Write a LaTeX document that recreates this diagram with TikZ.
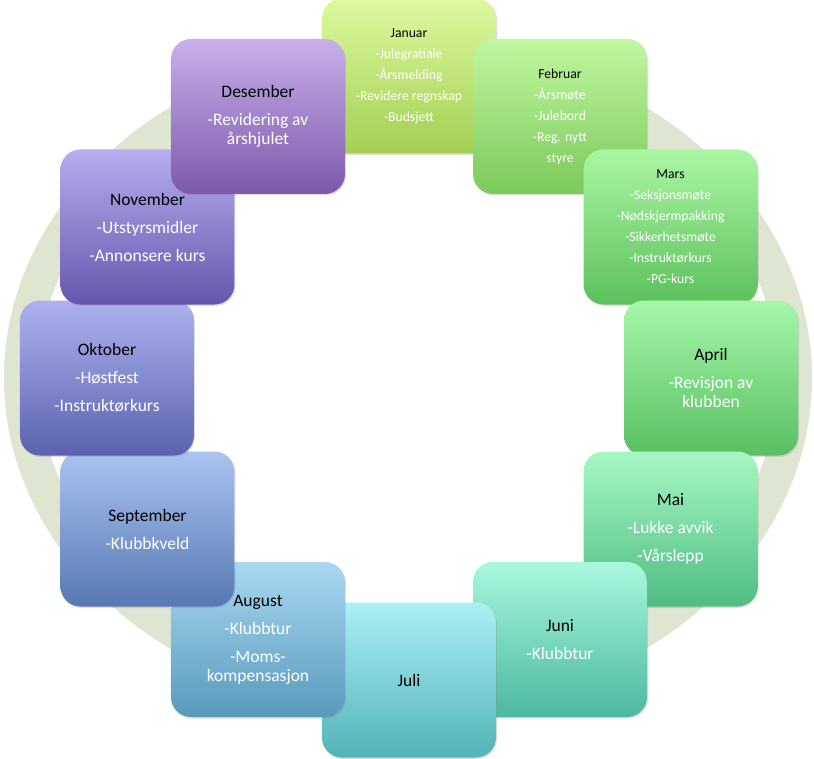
\documentclass[tikz,border=0pt]{standalone}
\usepackage{fontspec}
\setmainfont{Carlito}
\usetikzlibrary{shadows}

\definecolor{hjulfarge}{RGB}{222,230,210}
\definecolor{jantop}{RGB}{221,249,160}
\definecolor{janbot}{RGB}{163,207,82}
\definecolor{febtop}{RGB}{192,247,160}
\definecolor{febbot}{RGB}{124,201,90}
\definecolor{martop}{RGB}{171,246,164}
\definecolor{marbot}{RGB}{92,192,92}
\definecolor{aprtop}{RGB}{166,247,170}
\definecolor{aprbot}{RGB}{88,191,98}
\definecolor{maitop}{RGB}{165,248,196}
\definecolor{maibot}{RGB}{80,188,130}
\definecolor{juntop}{RGB}{168,248,222}
\definecolor{junbot}{RGB}{77,183,160}
\definecolor{jultop}{RGB}{170,240,245}
\definecolor{julbot}{RGB}{82,179,184}
\definecolor{augtop}{RGB}{170,216,242}
\definecolor{augbot}{RGB}{88,153,187}
\definecolor{septop}{RGB}{170,196,240}
\definecolor{sepbot}{RGB}{87,120,179}
\definecolor{okttop}{RGB}{173,178,238}
\definecolor{oktbot}{RGB}{90,98,176}
\definecolor{novtop}{RGB}{182,174,238}
\definecolor{novbot}{RGB}{102,86,174}
\definecolor{destop}{RGB}{199,176,234}
\definecolor{desbot}{RGB}{125,88,170}

\begin{document}
\begin{tikzpicture}[
x=1pt, y=1pt,
mnd/.style={rectangle, rounded corners=20pt, minimum width=174pt, minimum height=155pt,
  align=center, text=white, top color=#1top, bottom color=#1bot,
  font=\fontsize{17.5}{19}\selectfont,
  drop shadow={opacity=0.25, shadow xshift=1pt, shadow yshift=-1.5pt}},
liten/.style={font=\fontsize{13.7}{21}\selectfont},
hjul/.style={fill=hjulfarge, even odd rule}
]
\useasboundingbox (-409,378) rectangle (405,-380);

% ringen bak
\coordinate (midt) at (-1,0);
\fill[hjul] (midt) ellipse [x radius=404pt, y radius=335pt]
            (midt) ellipse [x radius=370pt, y radius=300pt];

% maanedene, med klokka fra toppen
\node[mnd=jan, liten] (mnd_jan) at (90:302) {\textcolor{black}{Januar}\\-Julegratiale\\-Årsmelding\\-Revidere regnskap\\-Budsjett};
\node[mnd=feb, liten] (mnd_feb) at (60:302) {\textcolor{black}{Februar}\\-Årsmøte\\-Julebord\\-Reg. nytt\\styre};
\node[mnd=mar, liten] (mnd_mar) at (30:302) {\textcolor{black}{Mars}\\-Seksjonsmøte\\-Nødskjermpakking\\-Sikkerhetsmøte\\-Instruktørkurs\\-PG-kurs};
\node[mnd=apr] (mnd_apr) at (0:302) {\textcolor{black}{April}\\[9pt]-Revisjon av\\klubben};
\node[mnd=mai] (mnd_mai) at (-30:302) {\textcolor{black}{Mai}\\[9pt]-Lukke avvik\\[9pt]-Vårslepp};
\node[mnd=jun] (mnd_jun) at (-60:302) {\textcolor{black}{Juni}\\[9pt]-Klubbtur};
\node[mnd=jul] (mnd_jul) at (-90:302) {\textcolor{black}{Juli}};
\node[mnd=aug] (mnd_aug) at (-120:302) {\textcolor{black}{August}\\[9pt]-Klubbtur\\[9pt]-Moms-\\kompensasjon};
\node[mnd=sep] (mnd_sep) at (-150:302) {\textcolor{black}{September}\\[9pt]-Klubbkveld};
\node[mnd=okt] (mnd_okt) at (180:302) {\textcolor{black}{Oktober}\\[9pt]-Høstfest\\[9pt]-Instruktørkurs};
\node[mnd=nov] (mnd_nov) at (150:302) {\textcolor{black}{November}\\[9pt]-Utstyrsmidler\\[9pt]-Annonsere kurs};
\node[mnd=des] (mnd_des) at (120:302) {\textcolor{black}{Desember}\\[9pt]-Revidering av\\årshjulet};

\end{tikzpicture}
\end{document}
